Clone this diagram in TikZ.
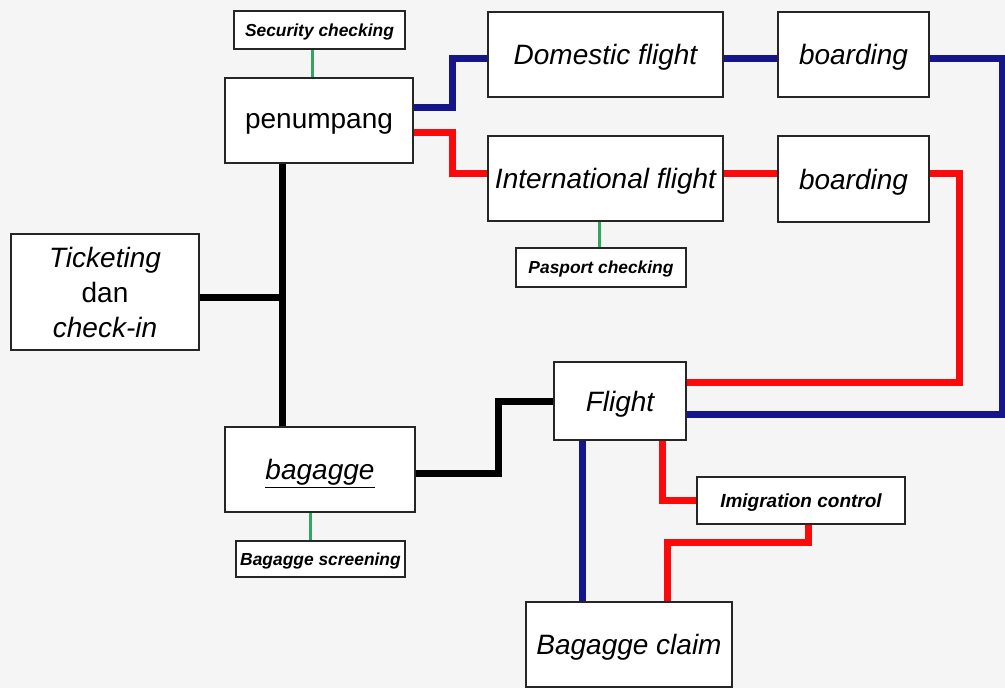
\documentclass[tikz,border=0pt]{standalone}
\usepackage{fontspec}
\setmainfont{Liberation Sans}
\begin{document}
\begin{tikzpicture}[x=1pt,y=-1pt,
  frame/.style={draw=black!85,line width=1.8pt,fill=white,inner sep=0pt},
  box/.style={frame,text depth=0pt,font=\fontsize{28}{34}\selectfont},
  ibox/.style={box,font=\fontsize{28}{34}\selectfont\itshape},
  tag/.style={frame,text depth=0pt,
    font=\fontsize{17.4}{20}\selectfont\bfseries\itshape},
  bline/.style={line width=7pt,draw=black,line join=miter},
  dline/.style={line width=7pt,draw={rgb,255:red,22;green,22;blue,140},line join=miter},
  rline/.style={line width=7pt,draw={rgb,255:red,250;green,10;blue,10},line join=miter},
  gline/.style={line width=3pt,draw={rgb,255:red,50;green,165;blue,95}}]
\useasboundingbox (0,0) rectangle (1005,688);
\fill[black!4] (0,0) rectangle (1005,688);

% boxes
\node[tag,minimum width=171pt,minimum height=38pt] (sec) at (319.5,30) {Security checking};
\node[box,minimum width=188pt,minimum height=85pt] (pen) at (319,120.5) {penumpang};
\node[ibox,minimum width=235pt,minimum height=85pt] (dom) at (605.5,54.5) {Domestic flight};
\node[ibox,minimum width=235pt,minimum height=85pt] (intl) at (605.5,178.5) {International flight};
\node[tag,minimum width=170pt,minimum height=39pt] (pas) at (601,267.5) {Pasport checking};
\node[ibox,minimum width=151pt,minimum height=85pt] (b1) at (853.5,54.5) {boarding};
\node[ibox,minimum width=151pt,minimum height=86pt] (b2) at (853.5,179) {boarding};
\node[frame,minimum width=188pt,minimum height=116pt,align=center,
  font=\fontsize{28}{35}\selectfont] (tic) at (105,292)
  {{\itshape Ticketing}\\dan\\{\itshape check-in}};
\node[ibox,minimum width=132pt,minimum height=78pt] (flt) at (620,401) {Flight};
\node[ibox,minimum width=190pt,minimum height=85pt] (bag) at (320,469.5) {\underline{bagagge}};
\node[tag,minimum width=169pt,minimum height=36pt] (scr) at (320.5,559) {Bagagge screening};
\node[tag,minimum width=208pt,minimum height=47pt,font=\fontsize{19}{22}\selectfont\bfseries\itshape] (imi) at (801,500.5) {Imigration control};
\node[ibox,minimum width=206pt,minimum height=85pt] (claim) at (629,644.5) {Bagagge claim};

% check points
\draw[gline] ([xshift=-7pt]sec.south) -- ([xshift=-7pt]sec.south |- pen.north);
\draw[gline] ([xshift=-6pt]intl.south) -- ([xshift=-6pt]intl.south |- pas.north);
\draw[gline] ([xshift=-10pt]bag.south) -- ([xshift=-10pt]bag.south |- scr.north);

% check-in and baggage trunk
\coordinate (trunk) at ([xshift=-37pt]pen.south);
\draw[bline] (trunk) -- (trunk |- bag.north);
\draw[bline] ([yshift=-5pt]tic.east) -- ([yshift=-5pt]tic.east -| trunk);
\draw[bline] ([yshift=-3.5pt]bag.east) -- ++(83,0) |- (flt.west);

% domestic route
\draw[dline] ([yshift=13.5pt]pen.east) -- ++(39,0) |- ([yshift=-3.5pt]dom.west);
\draw[dline] ([yshift=-3.5pt]dom.east) -- ([yshift=-3.5pt]b1.west);
\draw[dline] ([yshift=-3.5pt]b1.east) -- ++(73,0) |- ([yshift=-13pt]flt.east);
\draw[dline] ([xshift=-38pt]flt.south) -- ([xshift=-38pt]flt.south |- claim.north);

% international route
\draw[rline] ([yshift=-11.5pt]pen.east) -- ++(39,0) |- ([yshift=5.5pt]intl.west);
\draw[rline] ([yshift=5.5pt]intl.east) -- ([yshift=5.5pt]intl.east -| b2.west);
\draw[rline] ([yshift=6pt]b2.east) -- ++(30,0) |- ([yshift=19pt]flt.east);
\draw[rline] ([xshift=42pt]flt.south) |- (imi.west);
\draw[rline] ([xshift=7pt]imi.south) -- ++(0,18) -| ([xshift=38pt]claim.north);
\end{tikzpicture}
\end{document}
